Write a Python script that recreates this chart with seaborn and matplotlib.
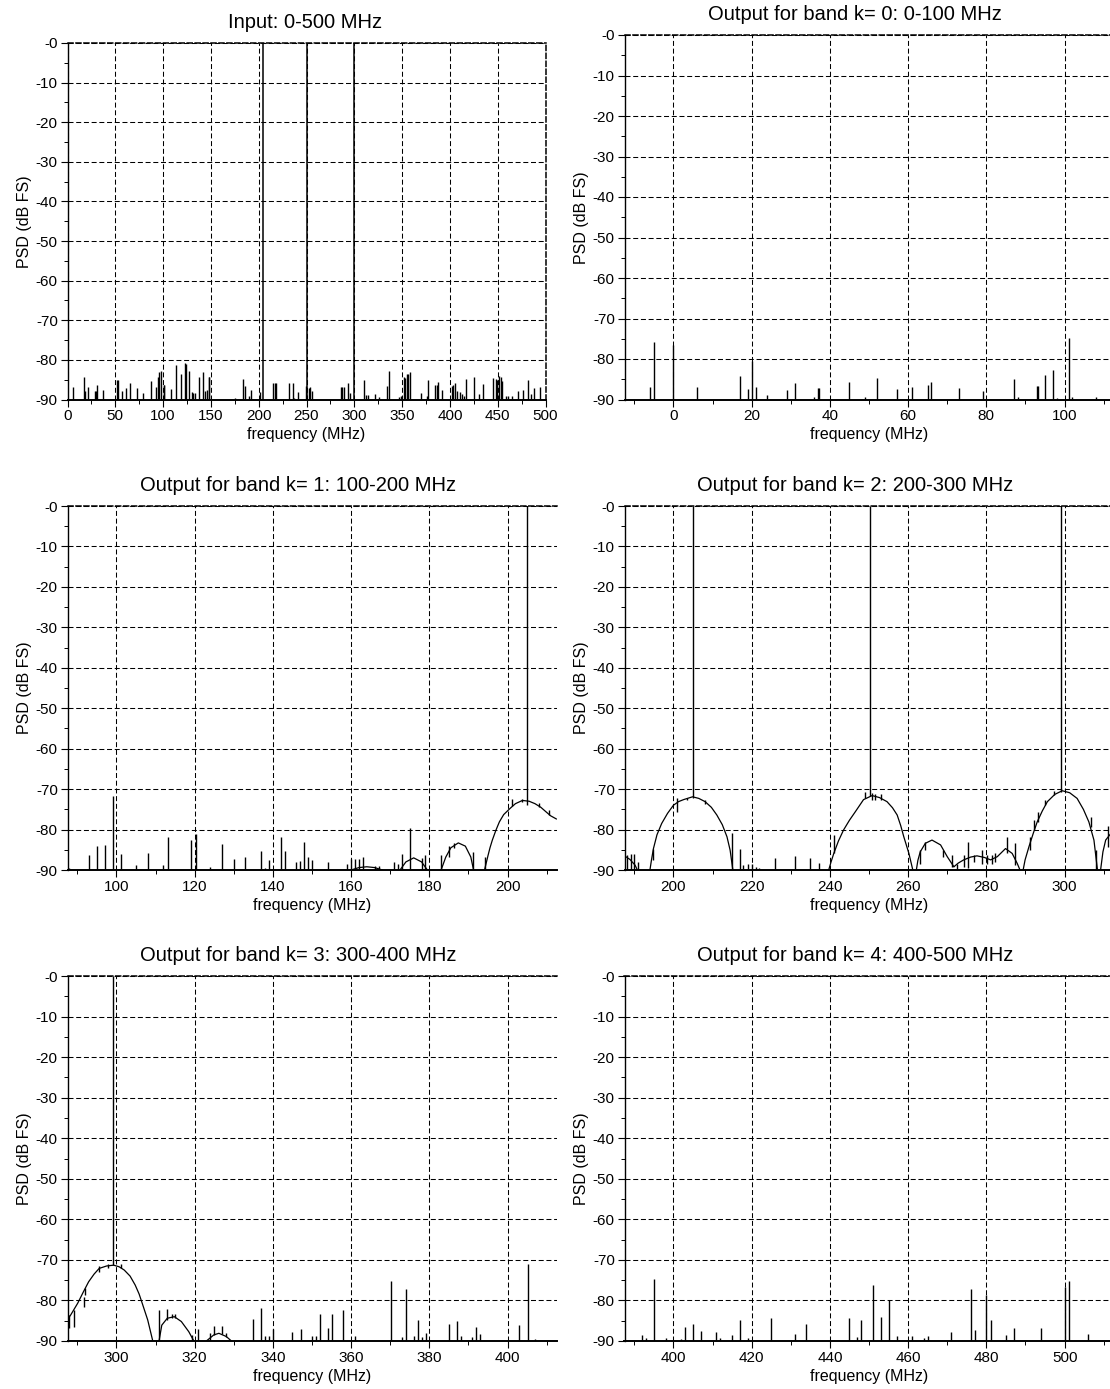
import matplotlib
matplotlib.use("Agg")
import matplotlib.pyplot as plt
import seaborn as sns
import pandas as pd
from matplotlib.ticker import FixedLocator, FixedFormatter

# ---------------- data ----------------
Y_TICKS = [-90, -80, -70, -60, -50, -40, -30, -20, -10, 0]
Y_TICK_LABELS = ["-90", "-80", "-70", "-60", "-50", "-40", "-30", "-20", "-10", "-0"]

TITLES = ["Input: 0-500 MHz",
          "Output for band k= 0: 0-100 MHz",
          "Output for band k= 1: 100-200 MHz",
          "Output for band k= 2: 200-300 MHz",
          "Output for band k= 3: 300-400 MHz",
          "Output for band k= 4: 400-500 MHz"]

# Input spectrum (0-500 MHz): spurs from the -90 dB floor
IN_F = [5.6, 16.8, 18.5, 21, 28.3, 29.4, 30.7, 37, 51.7, 52.4, 57, 61, 65.7, 73, 79,
        87.4, 93, 94.3, 96, 97.5, 100.6, 101.3, 108, 113, 118.8, 123, 123.7, 127, 130,
        131.7, 133.8, 137.3, 141.9, 143.6, 145.7, 147.5, 148.5, 175.7, 183.4, 185.2,
        189.7, 191.5, 200.9, 215.2, 216.6, 218, 231.7, 235.5, 237, 241.4, 249, 252.4,
        253.5, 255.6, 286.2, 287.6, 289, 293.2, 295, 310.6, 312, 314.8, 321.4, 325.6,
        334.6, 336.8, 346.5, 349.3, 351.7, 353.5, 354.9, 356.2, 358.4, 370.2, 375.8,
        376.8, 384.8, 386.2, 387.6, 392.2, 401.9, 403.7, 405, 407.1, 411, 412.4, 415,
        417.2, 425.3, 430.5, 434.3, 445.5, 448, 449.7, 451.8, 453.2, 454.6, 458.7,
        461.2, 464.6, 471.6, 476.9, 481.4, 484.9, 487.6, 494.3]
IN_V = [-86.9, -84.4, -87.75, -86.9, -87.9, -87.9, -86.3, -87.5, -85, -85.1, -87.75,
        -87.1, -85.8, -87.2, -88.3, -85.25, -86.9, -84.2, -83.1, -82.9, -86.25, -86.3,
        -87.3, -81.4, -83.6, -80.8, -81, -82.75, -88.2, -88.3, -88.3, -84.2, -83,
        -87.75, -87.5, -84.4, -84.4, -89.6, -84.8, -86.5, -89.2, -87.5, -88.1, -85.8,
        -85.8, -85.9, -85.9, -85.9, -89.6, -88.2, -86.5, -87, -86.8, -87.75, -86.8,
        -86.8, -86.8, -85.8, -88.3, -85.2, -88.75, -88.9, -88.5, -89.4, -86.5, -82.75,
        -89.3, -89.2, -84.3, -84.6, -83.6, -83.6, -83.1, -88.3, -89.2, -85, -86.4,
        -86.4, -85.7, -87.5, -86.5, -86.25, -85.8, -87.9, -88.2, -88.5, -89.2, -84.8,
        -84.3, -88.5, -86, -84.6, -84.8, -85, -84, -84.4, -85.25, -89, -89, -89.2,
        -87.9, -87.5, -85, -88.6, -87.1, -86.9]
IN_TONE_F = [205, 250, 299.5]
IN_TONE_TOP = [0, 0, 0]
IN_TONE_BOT = [-90, -90, -90]

# Band k=0
K0_F = [-6.0, -4.9, 0, 6.0, 17.0, 19.1, 20, 21.1, 24, 29.1, 31.1, 36, 36.9, 37.2, 44.9,
        49, 52.1, 57.1, 61.1, 65.1, 65.9, 73.1, 79.1, 87.0, 88, 93.0, 93.3, 95.1, 97.1,
        98, 101, 102, 108]
K0_V = [-87, -75.7, -76.5, -86.8, -84.3, -87.5, -80.6, -86.8, -88.8, -87.6, -86, -89.3,
        -87.2, -87.2, -85.7, -89.3, -84.7, -87.5, -86.8, -86.4, -85.7, -87.1, -88, -85,
        -89.4, -86.7, -86.7, -83.9, -82.8, -89.6, -74.8, -89.4, -89.4]

# Band k=1
K1_F = [88, 93, 95.1, 97.1, 99.1, 101.1, 105, 108, 112, 113.1, 119.1, 120.4, 124, 127,
        130, 133, 137, 138, 139, 142, 143, 146, 147, 148, 149, 150, 153, 154, 159, 160,
        161, 162, 163, 166, 167, 171, 172, 173, 175, 178, 179, 183, 191.1, 194.1]
K1_V = [-89.4, -86.4, -84.1, -83.9, -71.7, -86.1, -88.8, -85.9, -88.8, -81.9, -82.6,
        -81, -89.2, -83.5, -87.4, -86.8, -85.3, -89.4, -87.6, -81.8, -85.4, -88, -87.8,
        -83.2, -86.9, -87.6, -89.7, -88, -88.5, -87.2, -87.3, -87.3, -86.9, -89, -89,
        -88, -88.5, -86.1, -79.5, -87, -86.2, -86.2, -85.5, -86.8]
K1_SEG_F = [185, 186.2, 201.1, 203.8, 207.9, 210.5, 205]
K1_SEG_TOP = [-84.1, -83.3, -72.5, -72.4, -73.5, -75.2, 0]
K1_SEG_BOT = [-86.8, -84.5, -74.2, -73.3, -74.4, -76.5, -74]
K1_LOBES = [
    ([160, 162, 164, 166, 168], [-90, -89.4, -89.2, -89.4, -90]),
    ([172.5, 174, 176, 178, 179.5], [-90, -88, -87, -88, -90]),
    ([183, 184.2, 185.5, 187.4, 189.2, 190.6, 191.3], [-90, -86.8, -84.5, -83.3, -84.1, -86.8, -90]),
    ([194.1, 194.6, 195, 195.5, 196.1, 197, 197.9, 199, 200.6, 202, 203.8, 205.5, 207,
      208.5, 209.8, 211, 212.5],
     [-90, -88, -86.4, -84.5, -82.6, -80.2, -78.1, -76.3, -74.8, -73.6, -72.8, -73,
      -73.6, -74.5, -75.6, -76.6, -77.4]),
]

# Band k=2
K2_SEG_F = [188.1, 189.1, 190.0, 190.9, 194.9, 200.9, 203.4, 208.1, 214.9, 217, 217.9,
            219, 220, 221.2, 222, 226.0, 231.1, 235, 237.1, 241, 249.1, 250.8, 251.6,
            253.1, 263.1, 264.2, 268.9, 271.2, 272.4, 274.2, 275.3, 276.8, 278.9, 280.2,
            281.5, 282.3, 285.2, 287.2, 291.1, 292.2, 293.2, 295.1, 297.3, 306.7, 308.1,
            311.2, 205, 250.2, 299.1]
K2_SEG_TOP = [-86.3, -86.1, -86.1, -88, -84.7, -72.3, -72.1, -72.7, -80.9, -84.7, -88.8,
              -88.4, -88.4, -89.2, -89.6, -87.1, -86.5, -87, -88.2, -81.4, -70.7, -70.9,
              -71.1, -71.1, -85.1, -83, -85.1, -86.3, -88.5, -86.3, -83, -86.3, -85.1,
              -86.3, -86.3, -85.9, -81.9, -83.4, -81.8, -77.7, -75.6, -72.7, -70.4,
              -76.8, -85.1, -79.1, 0, 0, 0]
K2_SEG_BOT = [-90, -90, -90, -90, -87.5, -75.6, -72.7, -73.7, -90, -90, -90, -90, -90,
              -90, -90, -90, -90, -90, -90, -85.9, -72.3, -72.7, -72.6, -72.7, -88.4,
              -85.1, -86.7, -89.2, -90, -89.2, -89.6, -87.9, -88.4, -88.4, -88.4, -87.9,
              -85.9, -88.8, -85.1, -80.1, -78.1, -74, -71.5, -79.3, -90, -84.2, -72.2,
              -71.8, -70.6]
K2_LOBES = [
    ([187.5, 188.9, 190.2, 190.8], [-86.5, -87.4, -88.8, -90]),
    ([194.0, 194.4, 194.9, 195.8, 197.0, 198.5, 200, 201.3, 202.6, 204.9, 206.5, 208.1,
      209.7, 211.1, 212.5, 213.7, 214.5, 215.2],
     [-90, -87.5, -84.7, -81.3, -78.5, -76, -74, -73.1, -72.6, -71.9, -72.3, -73.1,
      -74.5, -76.4, -78.8, -81.8, -85.1, -90]),
    ([239.7, 240.3, 241, 242.2, 243.5, 245, 246.5, 248.6, 250.8, 252.7, 254.6, 256,
      257.2, 258.1, 258.9, 260.2, 261.2],
     [-90, -88, -85.9, -82.8, -80.1, -77.7, -75.6, -72.6, -71.6, -72.1, -73.1, -74.6,
      -76.4, -79, -81.8, -85.9, -90]),
    ([262.1, 262.5, 263.1, 264.4, 266.1, 268.3, 270, 271.7],
     [-90, -87.6, -85.5, -83.4, -82.6, -83.8, -86.7, -89.2]),
    ([271.7, 272.8, 274.2, 276, 277.6, 279.5, 281.1, 282.8, 284.9, 286.6, 287.9, 288.6],
     [-89.2, -88.3, -87.5, -86.8, -86.5, -86.9, -87.5, -86.7, -84.7, -85.9, -88.4, -90]),
    ([289.4, 289.9, 290.9, 292, 293, 294.3, 295.6, 297.5, 299.4, 301.3, 303.2, 304.8,
      306.2, 307.5, 308.4],
     [-90, -87.5, -84.2, -80.9, -78.1, -75.4, -73.1, -71.3, -70.4, -70.9, -72.3, -75,
      -78.1, -82.6, -90]),
    ([309.2, 309.8, 310.5, 311.8, 312.5], [-90, -85.5, -82.6, -81, -80.3]),
]

# Band k=3
K3_F = [334.9, 337, 338.1, 339, 340.1, 345, 347.1, 350.1, 351, 352, 354, 355, 358, 361,
        370.1, 373.1, 374, 376, 377, 378.1, 379.1, 385, 387, 388.1, 391, 392, 393, 403,
        405.1, 407]
K3_V = [-84.5, -81.8, -88.8, -88.8, -87.1, -87.7, -87, -88.8, -88.8, -83.4, -86.7,
        -83.3, -82.4, -88.8, -75.2, -88.9, -77.3, -88.8, -84.8, -89.1, -88.1, -85.7,
        -85.1, -88.8, -88.9, -86.6, -88.3, -86.1, -71.1, -89.4]
K3_SEG_F = [288.0, 289.2, 291.6, 292.1, 295.6, 297.9, 301.1, 310.9, 313, 314.2, 315.1,
            319.3, 320.9, 324, 324.9, 327.1, 328.1, 299.1]
K3_SEG_TOP = [-83.6, -82.4, -79.1, -77, -71.6, -71.1, -71.1, -82.4, -82.2, -83.4, -83.4,
              -88.5, -87.1, -88.1, -86.3, -86.3, -88, 0]
K3_SEG_BOT = [-86.9, -86.5, -81.6, -78.7, -72.9, -72.1, -72.1, -90, -84.8, -84.4, -84.4,
              -90, -90, -90, -88.5, -88.3, -88.9, -71.3]
K3_LOBES = [
    ([287.4, 288.3, 290.1, 291.5, 292.9, 294.3, 295.6, 297.5, 299.3, 300.7, 302, 303.5,
      304.8, 305.8, 306.6, 308, 309.3],
     [-84.8, -83.6, -80.7, -78, -75.4, -73.5, -72.1, -71.5, -71.3, -71.7, -72.5, -74,
      -76.2, -78.4, -80.7, -84.8, -90]),
    ([310.9, 311.6, 313, 314.8, 316.6, 318.5, 319.8], [-90, -86.1, -84.4, -84, -85.2, -87.7, -90]),
    ([323, 324.9, 326.2, 328.1, 329.4], [-90, -88.5, -88.1, -88.9, -90]),
]

# Band k=4
K4_F = [392, 393, 395.1, 398.1, 402, 403, 405.1, 407.1, 411, 412, 415, 417, 419, 425,
        431.1, 434, 444.9, 447, 448, 451.1, 453.1, 455.1, 457.1, 461, 464, 465, 471, 476,
        477, 480, 481.1, 485.1, 487, 494, 500, 501, 506]
K4_V = [-88.4, -89.2, -74.8, -89.2, -89.5, -86.6, -85.7, -87.5, -87.8, -89.2, -88.5,
        -84.8, -89.2, -84.3, -88.2, -85.8, -84.3, -88.9, -84.8, -76.2, -84, -79.8, -88.7,
        -88.7, -89.2, -88.7, -87.8, -77.2, -87.4, -78.7, -84.8, -88.5, -86.7, -86.7,
        -76.7, -75.2, -88.3]

# ---------------- style ----------------
sns.set_theme(style="white")
plt.rcParams['font.family'] = ['Liberation Sans', 'DejaVu Sans']
plt.rcParams['axes.unicode_minus'] = False

W, H = 1110, 1389
fig = plt.figure(figsize=(W / 100, H / 100), dpi=100)
fig.patch.set_facecolor("white")


def make_ax(x0, x1, y0, y1):
    return fig.add_axes([x0 / W, 1 - y1 / H, (x1 - x0) / W, (y1 - y0) / H])


GRID_DASH = (0, (4.8, 2.6))
SPINE_DASH = (0, (3.3, 1.9))


def style_ax(ax, xlim, major, minor, title, title_x, right_dashed=False):
    ax.set_xlim(*xlim)
    ax.set_ylim(-90, 0)
    ax.set_facecolor("white")
    ax.xaxis.set_major_locator(FixedLocator(major))
    ax.xaxis.set_major_formatter(FixedFormatter([str(int(m)) for m in major]))
    ax.xaxis.set_minor_locator(FixedLocator(minor))
    ax.yaxis.set_major_locator(FixedLocator(Y_TICKS))
    ax.yaxis.set_major_formatter(FixedFormatter(Y_TICK_LABELS))
    ax.yaxis.set_minor_locator(FixedLocator([-85, -75, -65, -55, -45, -35, -25, -15, -5]))
    ax.grid(True, which="major", color="black", linestyle=GRID_DASH, linewidth=0.75)
    ax.tick_params(axis="both", which="major", direction="out", length=5, width=0.8,
                   color="black", labelsize=11, labelcolor="black", pad=2,
                   bottom=True, left=True)
    ax.tick_params(axis="both", which="minor", direction="out", length=2.8, width=0.7,
                   color="black", bottom=True, left=True)
    for s in ["left", "bottom"]:
        ax.spines[s].set_color("black")
        ax.spines[s].set_linewidth(1.0)
    ax.spines["bottom"].set_linewidth(1.4)
    ax.spines["top"].set_color("black")
    ax.spines["top"].set_linestyle(SPINE_DASH)
    ax.spines["top"].set_linewidth(1.1)
    if right_dashed:
        ax.spines["right"].set_color("black")
        ax.spines["right"].set_linestyle(SPINE_DASH)
        ax.spines["right"].set_linewidth(1.1)
    else:
        ax.spines["right"].set_visible(False)
    ax.set_xlabel("frequency (MHz)", fontsize=11.5, color="black", labelpad=3)
    ax.set_ylabel("PSD (dB FS)", fontsize=11.5, color="black", labelpad=3)
    ax.annotate(title, xy=(title_x, 1), xycoords="axes fraction", xytext=(0, 15),
                textcoords="offset points", ha="center", va="center", fontsize=14.5,
                color="black")


def draw_spikes(ax, f, top, bot=None, lw=1.0):
    if bot is None:
        bot = [-90] * len(f)
    ax.vlines(f, bot, top, color="black", linewidth=lw)


def draw_lobes(ax, lobes):
    for lf, lv in lobes:
        df = pd.DataFrame({"f": lf, "v": lv})
        sns.lineplot(data=df, x="f", y="v", ax=ax, color="black", linewidth=0.9,
                     sort=False, estimator=None)


LEFT_X0, LEFT_X1 = 67.5, 556.5
RIGHT_X0, RIGHT_X1 = 624.5, 1113.5

# Input
ax = make_ax(67.5, 545.5, 43, 399.5)
draw_spikes(ax, IN_F, IN_V)
draw_spikes(ax, IN_TONE_F, IN_TONE_TOP, IN_TONE_BOT, lw=1.1)
style_ax(ax, (0, 500), list(range(0, 501, 50)), list(range(25, 500, 50)), TITLES[0], 0.497,
         right_dashed=True)

# Band 0
ax = make_ax(RIGHT_X0, RIGHT_X1, 35, 399.5)
draw_spikes(ax, K0_F, K0_V)
style_ax(ax, (-12.5, 112.5), [0, 20, 40, 60, 80, 100], [-10, 10, 30, 50, 70, 90, 110],
         TITLES[1], 0.471)

# Band 1
ax = make_ax(LEFT_X0, LEFT_X1, 506, 870)
draw_lobes(ax, K1_LOBES)
draw_spikes(ax, K1_F, K1_V)
draw_spikes(ax, K1_SEG_F, K1_SEG_TOP, K1_SEG_BOT)
style_ax(ax, (87.5, 212.5), [100, 120, 140, 160, 180, 200], [90, 110, 130, 150, 170, 190, 210],
         TITLES[2], 0.472)

# Band 2
ax = make_ax(RIGHT_X0, RIGHT_X1, 506, 870)
draw_lobes(ax, K2_LOBES)
draw_spikes(ax, K2_SEG_F, K2_SEG_TOP, K2_SEG_BOT)
style_ax(ax, (187.5, 312.5), [200, 220, 240, 260, 280, 300], [190, 210, 230, 250, 270, 290, 310],
         TITLES[3], 0.471)

# Band 3
ax = make_ax(LEFT_X0, LEFT_X1, 976, 1341)
draw_lobes(ax, K3_LOBES)
draw_spikes(ax, K3_F, K3_V)
draw_spikes(ax, K3_SEG_F, K3_SEG_TOP, K3_SEG_BOT)
style_ax(ax, (287.5, 412.5), [300, 320, 340, 360, 380, 400], [290, 310, 330, 350, 370, 390, 410],
         TITLES[4], 0.472)

# Band 4
ax = make_ax(RIGHT_X0, RIGHT_X1, 976, 1341)
draw_spikes(ax, K4_F, K4_V)
style_ax(ax, (387.5, 512.5), [400, 420, 440, 460, 480, 500], [390, 410, 430, 450, 470, 490, 510],
         TITLES[5], 0.471)

fig.savefig("out.png", dpi=100, facecolor="white")
